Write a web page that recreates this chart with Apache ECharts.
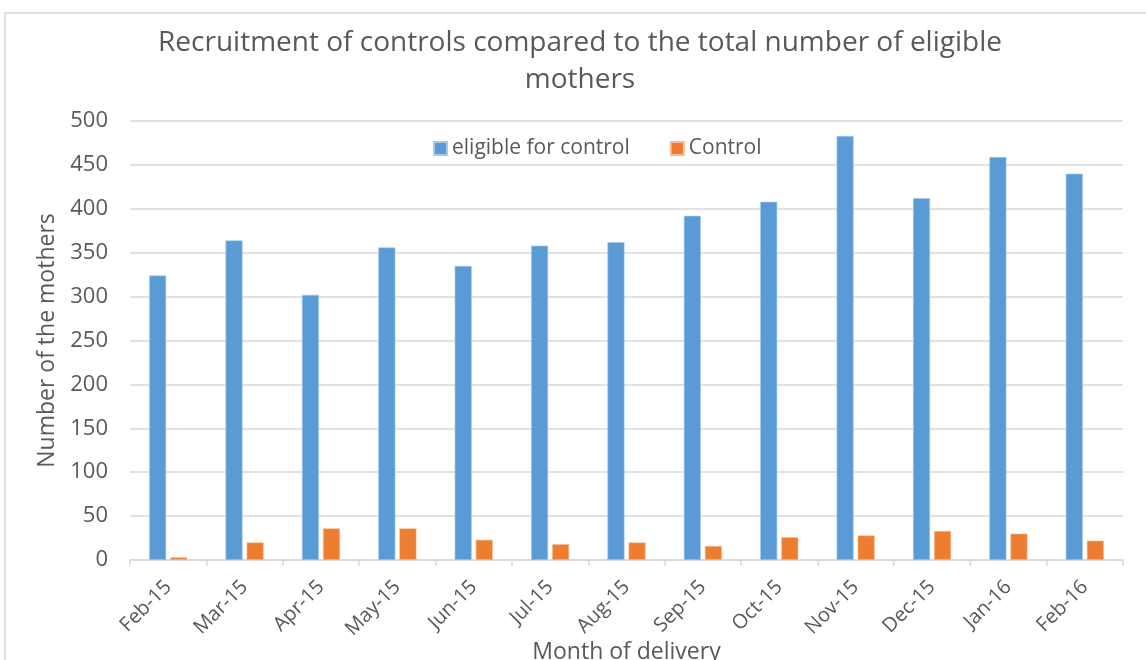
<!DOCTYPE html>
<html>
<head>
<meta charset="utf-8">
<script src="https://cdn.jsdelivr.net/npm/echarts@6/dist/echarts.min.js"></script>
<style>html,body{margin:0;padding:0;background:#fff}#c{width:1146px;height:660px}</style>
</head>
<body>
<div id="c"></div>
<script>
const categories = ['Feb-15','Mar-15','Apr-15','May-15','Jun-15','Jul-15','Aug-15','Sep-15','Oct-15','Nov-15','Dec-15','Jan-16','Feb-16'];
const eligible = [324, 364, 302, 356, 335, 358, 362, 392, 408, 483, 412, 459, 440];
const control = [3, 20, 36, 36, 23, 18, 20, 16, 26, 28, 33, 30, 22];
const yTicks = [0, 50, 100, 150, 200, 250, 300, 350, 400, 450, 500];

const chart = echarts.init(document.getElementById('c'));
const F = 'Open Sans, Liberation Sans, sans-serif';
chart.setOption({
  animation: false,
  graphic: [{
    type: 'rect', shape: {x: 5, y: 13, width: 1160, height: 680},
    style: {fill: 'none', stroke: '#d9d9d9', lineWidth: 1.5}, silent: true
  }],
  title: {
    text: 'Recruitment of controls compared to the total number of eligible\nmothers',
    left: 575, textAlign: 'center', top: 20,
    textStyle: {fontFamily: F, fontSize: 28, fontWeight: 'normal', color: '#595959', lineHeight: 37}
  },
  legend: {
    top: 133, left: 428, itemWidth: 13, itemHeight: 13, itemGap: 40,
    icon: 'rect',
    textStyle: {fontFamily: F, fontSize: 21, color: '#595959'},
    data: ['eligible for control', 'Control']
  },
  grid: {left: 130, right: 23, top: 121, bottom: 100, containLabel: false, outerBoundsMode: 'none'},
  xAxis: {
    type: 'category', data: categories,
    name: 'Month of delivery', nameLocation: 'middle', nameGap: 81, nameMoveOverlap: false,
    nameTextStyle: {fontFamily: F, fontSize: 23, color: '#595959'},
    axisLine: {lineStyle: {color: '#d9d9d9', width: 1.5}},
    axisTick: {show: true, length: 6, lineStyle: {color: '#d9d9d9', width: 1.5}},
    axisLabel: {rotate: 45, fontFamily: F, fontSize: 20, color: '#595959', margin: 24, interval: 0}
  },
  yAxis: {
    type: 'value', min: yTicks[0], max: yTicks[yTicks.length - 1], interval: 50,
    name: 'Number of the mothers', nameLocation: 'middle', nameGap: 67,
    nameTextStyle: {fontFamily: F, fontSize: 23, color: '#595959'},
    axisLine: {show: false}, axisTick: {show: false},
    splitLine: {lineStyle: {color: '#d9d9d9', width: 1.5}},
    axisLabel: {fontFamily: F, fontSize: 22, color: '#595959', margin: 22}
  },
  series: [
    {name: 'eligible for control', type: 'bar', data: eligible, barWidth: 17, barGap: '24%',
     itemStyle: {color: '#5b9bd5', borderColor: '#a9c9ea', borderWidth: 0.6}},
    {name: 'Control', type: 'bar', data: control, barWidth: 17,
     itemStyle: {color: '#ed7d31', borderColor: '#f6bd97', borderWidth: 0.6}}
  ]
});
</script>
</body>
</html>
